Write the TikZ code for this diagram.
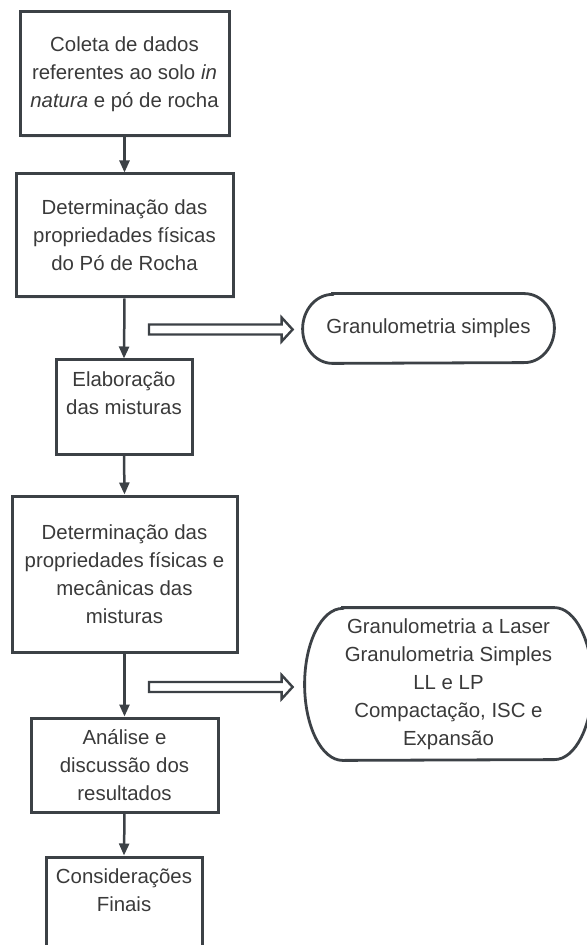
\documentclass[tikz,border=0pt]{standalone}
\usepackage{fontspec}
\setmainfont{Liberation Sans}
\usetikzlibrary{arrows.meta,calc,shadows}
\definecolor{edge}{HTML}{3C4146}
\definecolor{ink}{HTML}{3A3A3A}
\begin{document}
\begin{tikzpicture}[x=0.5pt,y=-0.5pt,
  stepbox/.style={draw=edge, line width=1.5pt, fill=white, align=center, inner sep=0pt,
    text=ink, font=\fontsize{10.2}{14}\selectfont,
    drop shadow={opacity=0.12, shadow xshift=0.8pt, shadow yshift=-1.2pt}},
  termbox/.style={draw=none, align=center, inner sep=0pt, text=ink,
    font=\fontsize{10.2}{14}\selectfont},
  termline/.style={draw=edge, line width=1.4pt, fill=white},
  flow/.style={draw=edge, line width=1.25pt, -{Triangle[length=6pt,width=5pt]}},
  hollow/.style={draw=edge, line width=1.2pt, fill=white, line join=miter}]
\useasboundingbox (0,0) rectangle (587,945);

% main boxes
\node[stepbox, minimum width=104.5pt, minimum height=62pt] (b1) at (124.5,74)
  {Coleta de dados\\referentes ao solo \textit{in}\\\textit{natura} e pó de rocha};
\node[stepbox, minimum width=108.5pt, minimum height=61.5pt] (b2) at (124.5,235.5)
  {Determinação das\\propriedades físicas\\do Pó de Rocha};
\node[stepbox, minimum width=68pt, minimum height=47pt] (b3) at (124,407)
  {Elaboração\\das misturas\\[-4pt]\strut};
\node[stepbox, minimum width=112.5pt, minimum height=78pt] (b4) at (124.5,574)
  {Determinação das\\propriedades físicas e\\mecânicas das\\misturas};
\node[stepbox, minimum width=93.5pt, minimum height=47pt] (b5) at (124.5,765)
  {Análise e\\discussão dos\\resultados};
\node[stepbox, minimum width=78pt, minimum height=47pt] (b6) at (124,904)
  {Considerações\\Finais\\[-4pt]\strut};

% terminator 1
\node[termbox, minimum width=125.5pt, minimum height=34.5pt] (g1) at (428.5,328.5) {};
\path[termline] ($(g1.north west)+(30,0)$) -- ($(g1.north east)+(-30,0)$)
  arc[start angle=-90, end angle=90, x radius=30, y radius=34.5]
  -- ($(g1.south west)+(30,0)$)
  arc[start angle=90, end angle=270, x radius=30, y radius=34.5] -- cycle;
\node[termbox] at (g1.center) {Granulometria simples};

% terminator 2
\node[termbox, minimum width=143.5pt, minimum height=76pt] (g2) at (448.5,684) {};
\path[termline] ($(g2.north west)+(38,0)$) -- ($(g2.north east)+(-38,0)$)
  arc[start angle=-90, end angle=90, x radius=38, y radius=76]
  -- ($(g2.south west)+(38,0)$)
  arc[start angle=90, end angle=270, x radius=38, y radius=76] -- cycle;
\node[termbox] at (g2.center)
  {Granulometria a Laser\\Granulometria Simples\\LL e LP\\Compactação, ISC e\\Expansão};

% vertical connectors
\draw[flow] (b1.south) -- (b2.north);
\draw[flow] (b2.south) -- (b3.north);
\draw[flow] (b3.south) -- (b4.north);
\draw[flow] (b4.south) -- (b5.north);
\draw[flow] (b5.south) -- (b6.north);

% hollow block arrows
\coordinate (d1) at (149,329.5);
\coordinate (e1) at ($(g1.west|-d1)+(-10,0)$);
\draw[hollow] ($(d1)+(0,-5)$) -- ($(e1)+(-11,-5)$) -- ($(e1)+(-11,-12)$) -- (e1)
  -- ($(e1)+(-11,12)$) -- ($(e1)+(-11,5)$) -- ($(d1)+(0,5)$) -- cycle;

\coordinate (d2) at (149,687);
\coordinate (e2) at ($(g2.west|-d2)+(-12,0)$);
\draw[hollow] ($(d2)+(0,-5)$) -- ($(e2)+(-11,-5)$) -- ($(e2)+(-11,-12)$) -- (e2)
  -- ($(e2)+(-11,12)$) -- ($(e2)+(-11,5)$) -- ($(d2)+(0,5)$) -- cycle;
\end{tikzpicture}
\end{document}
